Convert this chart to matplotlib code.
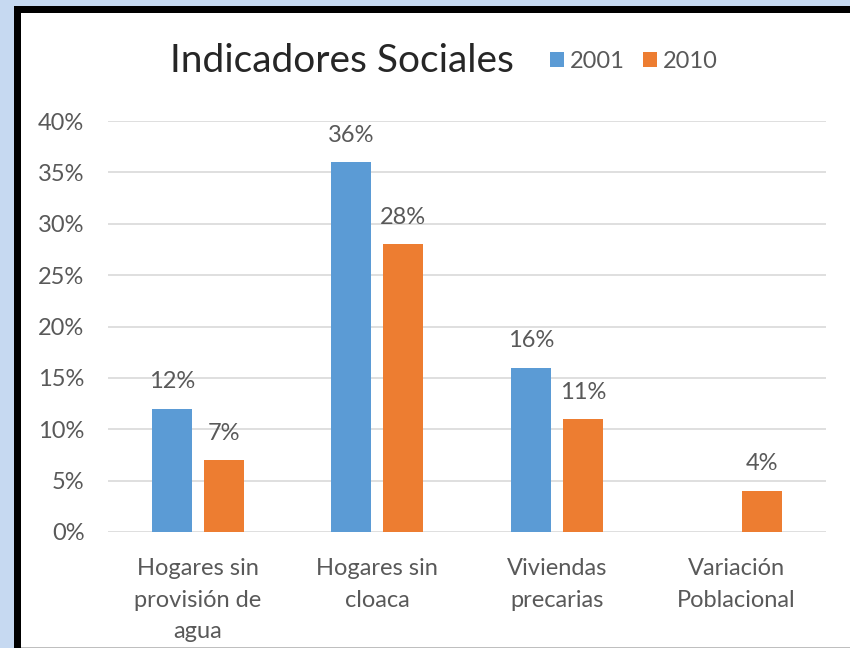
import matplotlib.pyplot as plt
import numpy as np
from matplotlib.patches import Rectangle

categories = ["Hogares sin\nprovisión de\nagua", "Hogares sin\ncloaca",
              "Viviendas\nprecarias", "Variación\nPoblacional"]
series_names = ["2001", "2010"]
values_2001 = [0.12, 0.36, 0.16, None]
values_2010 = [0.07, 0.28, 0.11, 0.04]
y_ticks = [0, 0.05, 0.10, 0.15, 0.20, 0.25, 0.30, 0.35, 0.40]

BLUE = "#5B9BD5"
ORANGE = "#ED7D31"
TEXT = "#595959"
W, H = 850, 648
FS = 17

plt.rcParams["font.family"] = ["Lato", "DejaVu Sans"]

fig = plt.figure(figsize=(W / 100, H / 100), dpi=100)
fig.patch.set_facecolor("#C6D9F1")


def px_rect(x0, y0, x1, y1, color):
    # rectangle given in image pixels (origin top-left)
    fig.patches.append(Rectangle((x0 / W, 1 - y1 / H), (x1 - x0) / W, (y1 - y0) / H,
                                 transform=fig.transFigure, facecolor=color,
                                 edgecolor="none", zorder=-5))


# white chart frame; heavy black border on left and top, right/bottom run off
px_rect(14, 6, W, H, "white")
px_rect(14, 6, 21, H, "black")
px_rect(14, 6, W, 13, "black")
px_rect(21, H - 1.5, W, H, "#BFBFBF")

ax = fig.add_axes([108 / W, (H - 532) / H, (826 - 108) / W, (532 - 121) / H])
ax.set_facecolor("none")

x = np.arange(len(categories))
bw = 0.223
off = 0.145
v1 = [v if v is not None else 0 for v in values_2001]
b1 = ax.bar(x - off, v1, bw, color=BLUE, label=series_names[0], zorder=3)
b2 = ax.bar(x + off, values_2010, bw, color=ORANGE, label=series_names[1], zorder=3)

for xi, v in zip(x - off, values_2001):
    if v is not None:
        ax.text(xi, v + 0.016, f"{v * 100:.0f}%", ha="center", va="bottom",
                fontsize=FS, color=TEXT)
for xi, v in zip(x + off, values_2010):
    ax.text(xi, v + 0.016, f"{v * 100:.0f}%", ha="center", va="bottom",
            fontsize=FS, color=TEXT)

ax.set_xlim(-0.5, len(categories) - 0.5)
ax.set_ylim(0, 0.40)
ax.set_yticks(y_ticks)
ax.set_yticklabels([f"{t * 100:.0f}%" for t in y_ticks], fontsize=FS, color=TEXT)
ax.set_xticks(x)
ax.set_xticklabels(categories, fontsize=FS, color=TEXT, linespacing=1.6)
ax.tick_params(axis="both", length=0)
ax.tick_params(axis="y", pad=17)
ax.tick_params(axis="x", pad=19)
ax.grid(axis="y", color="#D9D9D9", linewidth=1.2, zorder=0)
for s in ax.spines.values():
    s.set_visible(False)

fig.text(342 / W, 1 - 61 / H, "Indicadores Sociales", ha="center", va="center",
         fontsize=28, color="#262626")
ax.legend(handles=[b1, b2], loc="center left",
          bbox_to_anchor=(529 / W, 1 - 61 / H), bbox_transform=fig.transFigure,
          ncol=2, frameon=False, fontsize=FS, labelcolor=TEXT,
          handlelength=0.6, handleheight=0.6, handletextpad=0.25,
          columnspacing=0.75)

fig.savefig("out.png", dpi=100, facecolor=fig.get_facecolor())
